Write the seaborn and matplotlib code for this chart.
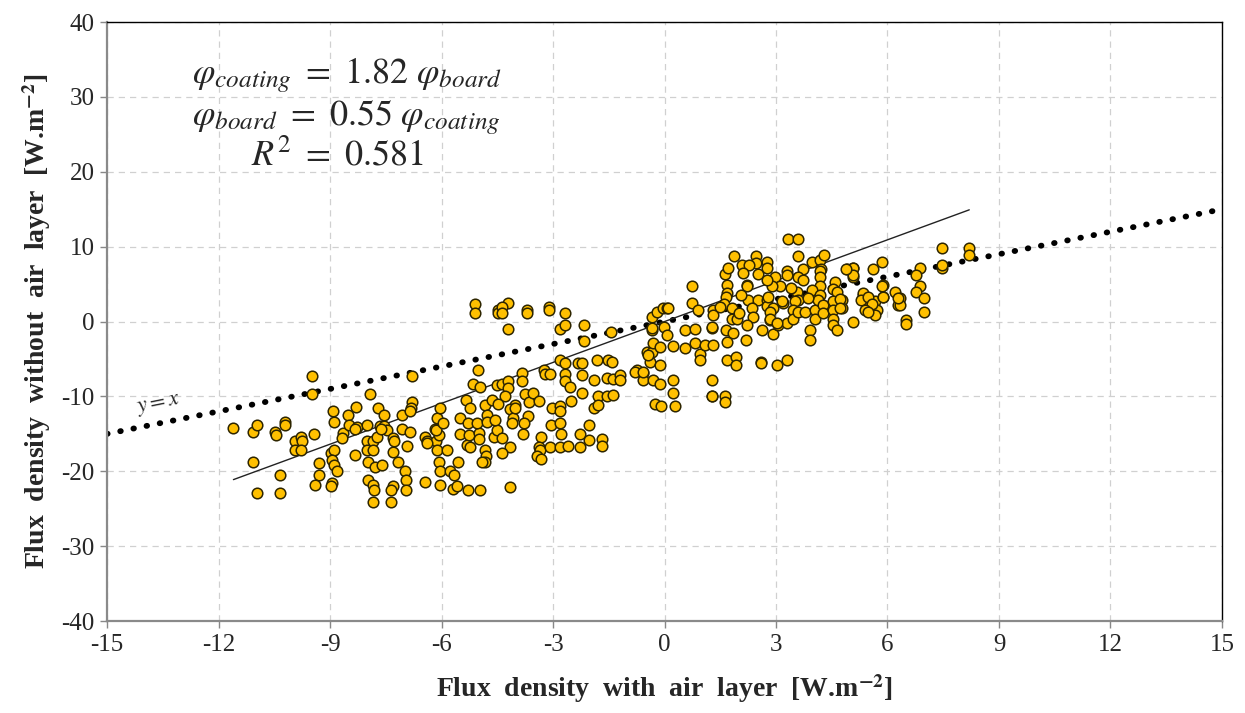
import matplotlib
matplotlib.use('Agg')
import matplotlib.pyplot as plt
import seaborn as sns
import pandas as pd
import numpy as np

# flux with air layer (x) / without air layer (y), grouped by x band
x_a = [-11.6, -11.06, -10.96, -11.08, -10.96, -10.35, -10.35, -10.48, -10.45, -10.21, -10.21,
       -9.94, -9.94, -9.79, -9.76, -9.79, -9.43, -9.49, -9.49, -9.29, -9.29, -9.4, -8.93, -8.89,
       -8.98, -8.89, -8.95, -8.89, -8.82, -8.95, -8.98, -8.66, -8.68, -8.53, -8.5, -8.33, -8.3]
y_a = [-14.2, -14.7, -13.8, -18.7, -22.9, -22.9, -20.5, -14.7, -15.1, -13.4, -13.8,
       -16.0, -17.1, -15.4, -16.0, -17.1, -15.0, -7.3, -9.7, -18.9, -20.5, -21.8, -11.9, -13.4,
       -17.6, -17.2, -18.5, -19.2, -20.0, -21.5, -22.0, -14.9, -15.6, -12.5, -13.8, -17.8, -11.4]

x_b = [-8.28, -8.33, -8.01, -7.92, -8.01, -7.85, -8.01, -7.85, -7.97, -7.79, -7.61, -7.97, -7.85,
       -7.81, -7.85, -7.37, -7.72, -7.56, -7.65, -7.74, -7.55, -7.48, -7.3, -7.3, -7.16, -6.98,
       -6.95, -6.95, -7.3, -7.37, -7.07, -6.92, -6.8, -6.83, -6.85, -6.8, -7.07, -6.85, -7.63,
       -7.29, -6.44, -6.4, -6.15, -6.13, -6.06, -6.17, -6.13, -6.04, -6.08, -6.04, -6.44, -6.04,
       -6.4, -6.14]
y_b = [-14.1, -14.3, -13.8, -9.7, -16.0, -16.0, -17.1, -17.1, -18.7, -19.4, -19.2, -21.2, -21.8,
       -22.5, -24.1, -24.1, -11.5, -12.5, -14.0, -15.4, -14.0, -14.5, -15.6, -17.4, -18.7, -20.0,
       -21.2, -22.5, -22.0, -22.5, -12.5, -16.6, -10.7, -11.5, -12.0, -7.3, -14.3, -14.7, -14.4,
       -16.0, -15.4, -16.0, -16.0, -17.1, -15.1, -14.3, -12.9, -11.6, -18.7, -20.0, -21.4, -21.8,
       -16.2, -14.5]

x_c = [-5.95, -5.86, -5.77, -5.57, -5.68, -5.59, -5.28, -4.96, -5.5, -5.5, -5.34, -5.23, -5.28,
       -5.14, -5.32, -5.1, -5.1, -5.01, -4.96, -4.47, -4.47, -5.27, -5.23, -4.99, -4.98, -5.05,
       -4.83, -4.78, -4.78, -4.65, -4.6, -4.51, -4.83, -4.8, -4.83, -4.92, -5.66]
y_c = [-13.6, -17.1, -20.0, -18.8, -22.4, -22.0, -22.5, -22.5, -12.9, -15.0, -10.5, -11.6, -13.6,
       -8.3, -16.5, 2.4, 1.2, -6.5, -8.8, 1.5, 1.1, -15.1, -16.7, -14.9, -15.7, -13.6,
       -11.1, -12.5, -13.4, -10.5, -15.4, -14.5, -17.2, -18.0, -18.7, -18.8, -20.5]

x_d = [-4.22, -4.38, -4.38, -3.69, -3.69, -3.12, -3.12, -2.69, -4.22, -2.81, -2.69, -2.18, -2.18,
       -1.44, -2.81, -2.68, -2.32, -2.21, -1.82, -1.51, -1.4, -3.23, -3.21, -3.08, -2.69, -2.69,
       -2.54, -2.21, -1.89, -1.55, -1.38, -1.2, -1.2, -3.84, -3.84, -4.52, -4.38, -4.22, -4.2,
       -2.21, -1.78, -1.55, -1.38, -4.29, -4.47, -4.02, -3.75, -3.66, -3.53, -3.39, -2.51, -3.04,
       -2.81, -2.81, -1.89, -1.78, -4.16, -4.07, -4.02, -4.11, -3.68, -3.77, -4.56, -3.05, -2.81,
       -2.78, -2.27, -2.03, -3.8, -3.32, -3.39, -3.35, -3.44, -3.32, -4.38, -4.16, -4.38, -3.08,
       -2.81, -2.6, -2.27, -2.03, -1.67, -1.67, -4.16]
y_d = [2.5, 2.0, 1.1, 1.6, 1.2, 2.0, 1.6, 1.2, -1.0, -1.0, -0.5, -0.5, -2.6,
       -1.4, -5.1, -5.5, -5.5, -5.5, -5.1, -5.1, -5.4, -6.5, -7.0, -7.0, -7.0, -8.0,
       -8.8, -7.1, -7.8, -7.6, -7.7, -7.1, -7.8, -6.9, -7.9, -8.5, -8.3, -8.0, -8.9,
       -9.6, -10.0, -10.0, -9.8, -9.9, -11.0, -11.1, -9.7, -10.7, -9.6, -10.6, -10.6, -11.5,
       -11.3, -11.9, -11.5, -11.1, -11.7, -12.9, -11.5, -13.6, -12.6, -13.5, -13.1, -13.8, -13.6,
       -15.0, -15.0, -13.8, -15.0, -15.4, -16.7, -17.2, -18.0, -18.3, -15.6, -16.7, -17.6, -16.7,
       -16.8, -16.6, -16.7, -15.8, -15.7, -16.6, -22.1]

x_e = [-0.34, -0.21, -0.03, 0.06, -0.34, -0.01, 0.06, -0.48, -0.34, -0.3, -0.12, -0.39, -0.12,
       -0.75, -0.58, -0.58, -0.3, -0.12, 0.22, 0.24, -0.25, -0.09, 0.29, 1.27, 1.27, 0.55, 0.82,
       0.24, 0.55, 0.82, 0.96, 0.96, 0.73, 0.73, 0.89, 1.27, 1.09, 1.3, -0.8, -0.57, -0.44,
       -0.35, 0.1, 1.63, 1.63, 1.27]
y_e = [0.6, 1.3, 1.8, 1.8, -1.1, -0.7, -1.8, -4.0, -4.0, -2.9, -3.4, -5.4, -5.8,
       -6.5, -6.9, -7.8, -7.8, -8.3, -7.8, -9.6, -11.0, -11.3, -11.3, -7.8, -10.0, -1.1, -1.0,
       -3.3, -3.5, -2.9, -4.3, -5.1, 4.7, 2.5, 1.5, -0.9, -3.1, -3.1, -6.8, -6.7, -4.5,
       -0.9, 1.8, -9.9, -10.7, -9.9]

x_f = [1.87, 2.46, 2.46, 2.08, 2.28, 2.52, 2.75, 2.75, 2.12, 1.63, 1.72, 1.67, 1.67, 2.23,
       1.65, 1.6, 1.31, 1.31, 1.81, 1.81, 1.27, 1.65, 1.83, 1.67, 2.19, 1.94, 2.25, 2.21, 2.52,
       2.75, 2.75, 2.93, 2.35, 2.39, 2.21, 2.61, 2.84, 2.93, 1.69, 1.92, 1.92, 2.59, 2.0, 2.05,
       1.5, 2.6]
y_f = [8.7, 8.7, 7.8, 7.5, 7.5, 6.4, 8.0, 7.1, 6.5, 6.4, 7.1, 4.9, 3.8, 4.9,
       3.3, 2.4, 1.5, 0.9, 1.8, 0.4, -0.7, -1.1, -1.5, -2.7, -2.4, 0.3, 2.9, 4.7, 2.9,
       2.9, 2.1, 1.8, 1.8, 0.6, -0.5, -1.1, 0.2, -1.7, -5.1, -4.7, -5.8, -5.4, 1.2, 3.5,
       2.0, -5.5]

x_g = [3.33, 3.6, 3.6, 3.96, 4.18, 4.3, 4.21, 3.73, 3.6, 3.73, 3.29, 3.29, 2.97, 3.11, 2.88,
       2.75, 4.18, 4.18, 4.18, 3.96, 4.18, 4.59, 4.54, 4.63, 4.9, 5.08, 5.08, 5.62, 5.84, 5.89,
       3.56, 3.6, 3.51, 3.2, 3.15, 2.79, 2.84, 2.84, 3.06, 3.29, 3.47, 3.47, 3.6, 3.78, 4.05,
       4.05, 4.14, 4.27, 4.27, 4.54, 4.54, 4.54, 4.54, 4.77, 4.77, 4.63, 3.91, 3.91, 5.08, 5.35,
       5.44, 5.66, 5.71, 5.48, 5.66, 5.89, 6.2, 6.29, 3.02, 3.29, 3.02, 3.4, 3.85]
y_g = [11.0, 11.0, 8.7, 8.0, 8.2, 8.9, 7.0, 7.0, 6.0, 5.6, 6.7, 6.2, 6.0, 4.7, 4.7,
       5.5, 6.7, 6.0, 4.7, 4.2, 3.5, 5.3, 4.4, 4.0, 7.0, 7.2, 6.0, 7.0, 8.0, 4.9,
       4.0, 2.9, 2.7, 2.5, 2.7, 3.3, 1.3, 0.4, -0.5, -0.2, 1.5, 0.4, 1.3, 1.3, 1.5,
       0.4, 2.9, 2.2, 1.1, 2.7, 1.5, 0.4, -0.5, 2.9, 1.8, -1.1, -1.1, -2.4, 0.0, 3.5,
       2.4, 2.7, 1.5, 1.5, 0.9, 3.3, 4.0, 2.2, -5.8, -5.1, -0.2, 4.5, 3.2]

x_h = [7.48, 8.2, 8.2, 7.48, 7.48, 6.87, 6.78, 6.87, 6.78, 6.98, 6.98, 6.34, 6.34, 6.51, 6.51,
       6.29, 5.84, 5.87, 5.06, 5.06, 4.88, 5.35, 5.28, 5.48, 5.57, 5.39, 5.48, 4.72, 4.72]
y_h = [9.8, 9.8, 8.9, 7.1, 7.6, 7.2, 6.2, 4.7, 4.0, 3.2, 1.3, 3.1, 2.2, 0.2, -0.3,
       3.1, 4.7, 3.3, 7.2, 6.2, 7.0, 3.8, 2.9, 3.3, 2.4, 1.5, 1.3, 3.0, 1.8]

flux_air = x_a + x_b + x_c + x_d + x_e + x_f + x_g + x_h
flux_no_air = y_a + y_b + y_c + y_d + y_e + y_f + y_g + y_h
slope = 1.82
x_ticks = list(range(-15, 16, 3))
y_ticks = list(range(-40, 41, 10))

df = pd.DataFrame({'air': flux_air, 'no_air': flux_no_air})

sns.set_theme(style='white')
plt.rcParams.update({'font.family': ['Liberation Serif', 'DejaVu Serif'],
                     'mathtext.fontset': 'stix'})

fig = plt.figure(figsize=(12.45, 7.13), dpi=100)
ax = fig.add_axes([0.086, 0.129, 0.8955, 0.84])

ax.grid(True, color='#d0d0d0', linestyle=(0, (5, 4)), linewidth=0.9)
ax.set_axisbelow(True)

# y = x reference and fitted line through origin
ref = np.array([-15, 15])
ax.plot(ref, ref, color='black', linestyle=(0, (0.1, 2.2)), linewidth=4.2,
        dash_capstyle='round', zorder=2)
fit_x = np.array([min(flux_air), max(flux_air)])
ax.plot(fit_x, slope * fit_x, color='#222222', linewidth=1.0, zorder=2)

sns.scatterplot(data=df, x='air', y='no_air', ax=ax, color='#FFC000',
                edgecolor='#2e2600', linewidth=1.1, s=58, zorder=3, legend=False)

ax.set_xlim(-15, 15)
ax.set_ylim(-40, 40)
ax.set_xticks(x_ticks)
ax.set_yticks(y_ticks)
ax.tick_params(axis='both', direction='out', length=5, width=1, color='#888888',
               labelsize=18, pad=4, bottom=True, left=True)
ax.set_xticklabels([str(t) for t in x_ticks])
ax.set_yticklabels([str(t) for t in y_ticks])

for side in ['left', 'bottom']:
    ax.spines[side].set_color('#8a8a8a')
    ax.spines[side].set_linewidth(1.6)
for side in ['top', 'right']:
    ax.spines[side].set_color('black')
    ax.spines[side].set_linewidth(1.0)

ax.set_xlabel(r'Flux  density  with  air  layer  [W.m$^{\mathbf{-2}}$]', fontsize=20,
              fontweight='bold', labelpad=12)
ax.set_ylabel(r'Flux  density  without  air  layer  [W.m$^{\mathbf{-2}}$]', fontsize=20,
              fontweight='bold', labelpad=6)

ax.text(-8.55, 32.9, r'$\varphi_{coating}\ =\ 1.82\ \varphi_{board}$', fontsize=26,
        ha='center', va='center')
ax.text(-8.55, 27.3, r'$\varphi_{board}\ =\ 0.55\ \varphi_{coating}$', fontsize=26,
        ha='center', va='center')
ax.text(-8.8, 22.1, r'$R^2\ =\ \mathrm{0.581}$', fontsize=26, ha='center', va='center')
ax.text(-13.6, -11.2, r'$y = x$', fontsize=16, ha='center', va='center', rotation=11.4)

fig.savefig('out.png', dpi=100, facecolor='white')
plt.close(fig)
